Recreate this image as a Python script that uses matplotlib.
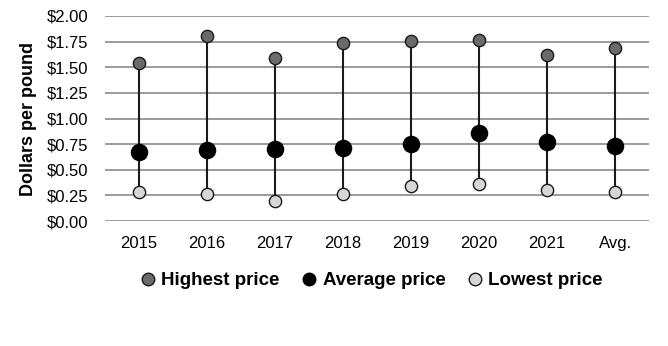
import matplotlib

matplotlib.use("Agg")
import matplotlib.pyplot as plt
from matplotlib.lines import Line2D

plt.rcParams["font.family"] = ["Liberation Sans", "DejaVu Sans"]

CATEGORIES = ["2015", "2016", "2017", "2018", "2019", "2020", "2021", "Avg."]
HIGHEST = [1.54, 1.80, 1.59, 1.74, 1.76, 1.77, 1.62, 1.69]
AVERAGE = [0.67, 0.69, 0.70, 0.71, 0.75, 0.86, 0.77, 0.73]
LOWEST = [0.28, 0.26, 0.20, 0.26, 0.34, 0.36, 0.30, 0.28]
Y_TICKS = [0.0, 0.25, 0.5, 0.75, 1.0, 1.25, 1.5, 1.75, 2.0]

HIGH_COLOR = "#6b6b6b"
AVG_COLOR = "#000000"
LOW_COLOR = "#d6d6d6"

fig = plt.figure(figsize=(6.68, 3.46), dpi=100)
ax = fig.add_axes([0.157, 0.361, 0.815, 0.593])

x = list(range(len(CATEGORIES)))
ax.vlines(x, LOWEST, HIGHEST, color="#1a1a1a", linewidth=1.5, zorder=2)
ax.scatter(x, HIGHEST, s=78, color=HIGH_COLOR, edgecolor="#1a1a1a", linewidth=1.0, zorder=3)
ax.scatter(x, LOWEST, s=78, color=LOW_COLOR, edgecolor="#1a1a1a", linewidth=1.0, zorder=3)
ax.scatter(x, AVERAGE, s=135, color=AVG_COLOR, edgecolor="#000000", linewidth=1.0, zorder=4)

ax.set_xlim(-0.5, len(CATEGORIES) - 0.5)
ax.set_ylim(0, 2.0)
ax.set_yticks(Y_TICKS)
ax.set_yticklabels([f"${v:.2f}" for v in Y_TICKS])
ax.set_xticks(x)
ax.set_xticklabels(CATEGORIES)
ax.tick_params(axis="both", length=0, labelsize=12, colors="#000000")
ax.tick_params(axis="x", pad=11)
ax.tick_params(axis="y", pad=12)
ax.yaxis.grid(True, color="#8a8a8a", linewidth=1.2)
ax.set_axisbelow(True)
for spine in ax.spines.values():
    spine.set_visible(False)
ax.set_ylabel("Dollars per pound", fontsize=13, fontweight="bold", labelpad=7)

handles = [
    Line2D([], [], linestyle="none", marker="o", markersize=9, markerfacecolor=HIGH_COLOR,
           markeredgecolor="#1a1a1a", label="Highest price"),
    Line2D([], [], linestyle="none", marker="o", markersize=9, markerfacecolor=AVG_COLOR,
           markeredgecolor="#000000", label="Average price"),
    Line2D([], [], linestyle="none", marker="o", markersize=9, markerfacecolor=LOW_COLOR,
           markeredgecolor="#1a1a1a", label="Lowest price"),
]
ax.legend(handles=handles, loc="center", bbox_to_anchor=(0.49, -0.29), ncol=3,
          frameon=False, handletextpad=0.3, columnspacing=1.2, handlelength=0.8,
          prop={"weight": "bold", "size": 13.5})

fig.savefig("out.png", dpi=100)
